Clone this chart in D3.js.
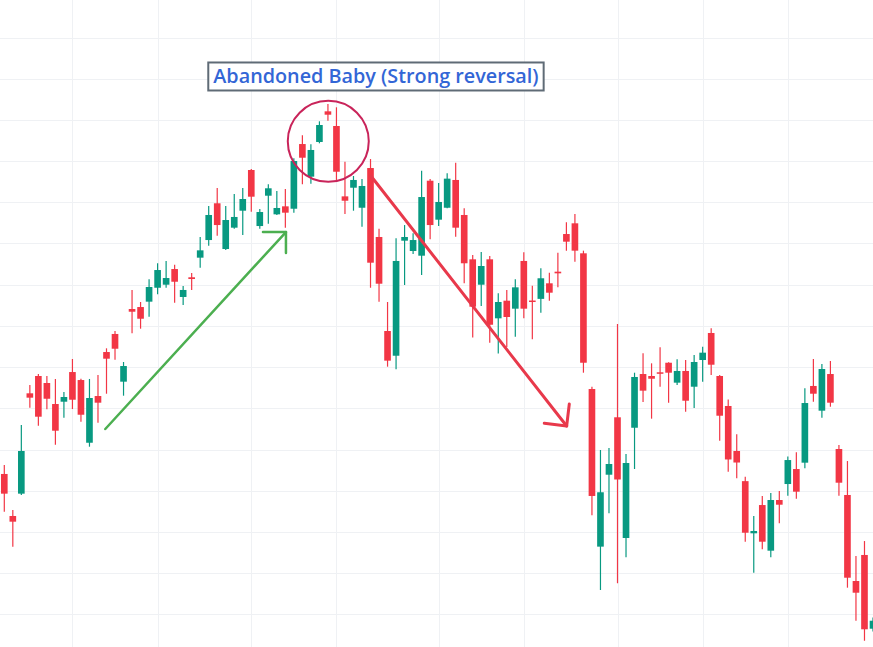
<!DOCTYPE html>
<html>
<head>
<meta charset="utf-8">
<script src="https://cdn.jsdelivr.net/npm/d3@7"></script>
<style>
  html, body { margin: 0; padding: 0; background: #fff; overflow: hidden; }
</style>
</head>
<body>
<div id="viz"></div>
<script>
const width = 873;
const height = 647;
const upColor = '#089981';
const downColor = '#f23645';
const gridColor = '#eff1f4';

// Candle data (one value per session)
const opens  = [117.03, 111.93, 114.64, 126.82, 128.92, 128.07, 125.52, 125.80, 129.40, 128.43,
                120.82, 126.49, 131.83, 134.02, 128.23, 137.05, 137.29, 137.94, 139.63, 140.00,
                141.90, 138.51, 140.90, 143.28, 145.42, 149.88, 144.33, 146.92, 148.98, 153.92,
                147.12, 150.80, 148.54, 149.51, 149.22, 157.07, 153.11, 157.32, 161.04, 159.26,
                150.72, 151.77, 149.34, 154.16, 145.79, 134.38, 131.38, 145.34, 144.09, 143.52,
                152.62, 147.89, 149.34, 152.71, 148.46, 143.08, 140.00, 143.08, 135.92, 138.06,
                137.09, 142.88, 138.08, 138.28, 140.17, 141.58, 146.15, 147.45, 143.81, 127.34,
                108.21, 116.94, 123.91, 109.26, 122.64, 129.16, 128.92, 129.37, 130.53, 128.11,
                129.53, 127.62, 130.86, 134.14, 128.92, 125.28, 119.82, 116.16, 109.83, 113.26,
                107.72, 113.87, 115.81, 117.63, 118.40, 127.71, 124.71, 129.16, 120.06, 114.48,
                104.04, 107.20, 98.25];
const highs  = [118.12, 112.66, 122.97, 127.83, 129.16, 128.92, 128.56, 126.97, 130.98, 128.60,
                128.56, 129.04, 132.28, 134.38, 130.62, 139.36, 137.90, 140.65, 142.60, 142.88,
                142.43, 139.84, 141.42, 145.79, 149.55, 151.73, 149.55, 151.01, 151.73, 154.04,
                149.19, 152.18, 151.37, 151.61, 155.34, 158.13, 157.04, 159.83, 161.93, 161.53,
                154.93, 153.19, 152.83, 155.25, 146.80, 137.90, 145.63, 147.24, 146.24, 153.83,
                152.83, 152.34, 153.52, 154.81, 149.27, 143.60, 143.97, 143.48, 138.96, 139.36,
                140.65, 143.93, 139.88, 141.99, 141.46, 143.88, 147.57, 148.58, 144.13, 127.62,
                119.94, 120.18, 135.23, 119.45, 129.32, 131.67, 130.46, 132.40, 130.60, 130.94,
                130.86, 131.47, 132.48, 134.71, 129.04, 126.08, 121.84, 116.69, 111.93, 114.36,
                114.72, 114.96, 119.15, 119.66, 127.43, 130.98, 130.37, 130.74, 120.55, 118.60,
                107.07, 108.89, 99.60];
const lows   = [112.45, 108.21, 114.48, 125.07, 122.89, 124.88, 120.58, 123.86, 124.91, 123.37,
                120.34, 123.25, 126.77, 130.90, 126.53, 134.11, 134.66, 136.12, 138.83, 139.63,
                137.81, 137.54, 139.36, 142.06, 144.73, 145.95, 144.20, 146.80, 146.03, 148.86,
                146.80, 147.40, 148.45, 146.92, 148.74, 152.18, 152.26, 157.16, 159.90, 152.71,
                148.58, 148.98, 147.04, 139.63, 137.94, 130.05, 129.73, 139.96, 143.73, 141.18,
                145.51, 147.12, 149.27, 145.82, 140.17, 133.59, 137.41, 132.97, 131.66, 132.44,
                133.69, 135.92, 133.37, 136.60, 138.06, 139.68, 144.13, 142.79, 129.32, 112.01,
                102.95, 112.26, 103.76, 106.93, 117.63, 125.76, 123.74, 127.62, 125.68, 127.83,
                124.59, 125.04, 128.23, 129.04, 121.07, 117.30, 116.50, 108.81, 105.05, 107.89,
                106.92, 111.04, 114.39, 114.03, 117.72, 125.80, 123.86, 125.19, 114.39, 103.23,
                99.22, 96.79, 97.90];
const closes = [114.64, 111.24, 119.82, 126.29, 123.98, 126.16, 122.28, 126.37, 126.04, 124.22,
                126.25, 125.68, 131.02, 132.23, 130.13, 136.72, 135.87, 139.72, 141.78, 140.81,
                140.36, 139.36, 140.69, 144.17, 148.46, 147.24, 147.85, 148.22, 150.40, 150.68,
                148.82, 151.70, 149.31, 148.74, 155.01, 155.41, 156.35, 159.38, 160.63, 153.71,
                150.19, 152.71, 151.98, 142.67, 140.12, 130.78, 142.88, 145.79, 145.42, 150.64,
                147.24, 150.04, 152.87, 146.92, 142.60, 137.33, 142.27, 135.14, 137.90, 136.08,
                139.68, 137.09, 137.96, 140.78, 139.03, 141.38, 145.22, 144.13, 130.53, 114.36,
                114.81, 118.24, 116.36, 118.36, 128.80, 127.14, 128.59, 129.25, 129.32, 129.53,
                125.92, 130.62, 131.75, 130.29, 124.10, 118.79, 118.42, 109.90, 110.11, 108.81,
                113.87, 113.30, 118.72, 114.88, 125.64, 126.77, 129.77, 125.68, 115.97, 104.44,
                102.62, 98.18, 99.22];
const sessions = d3.range(1, opens.length + 1);

// Grid positions
const priceGrid = [95, 100, 105, 110, 115, 120, 125, 130, 135, 140, 145, 150, 155, 160, 165, 170, 175];
const sessionGrid = [9, 19, 30, 40, 52, 62, 73, 83, 93];

// Annotations (session, price)
const labelText = 'Abandoned Baby (Strong reversal)';
const labelAt = [44.64, 164.48];
const circleAt = [39.04, 157.4];
const greenArrow = [[12.86, 122.49], [34.07, 146.39]];
const greenHead = [[31.37, 146.39], [34.07, 146.39], [34.07, 143.85]];
const redArrow = [[44.05, 153.19], [67.03, 122.85]];
const redHead = [[67.34, 125.52], [67.03, 122.85], [64.40, 123.18]];

const candles = sessions.map((s, i) => ({
  s, open: opens[i], high: highs[i], low: lows[i], close: closes[i]
}));

// Scales
const xScale = d3.scaleLinear()
  .domain([1, sessions.length])
  .range([4.3, 873]);
const yScale = d3.scaleLinear()
  .domain([100, 170])
  .range([614.3, 37.5]);
const step = xScale(2) - xScale(1);
const bodyWidth = step * 0.78;

const svg = d3.select('#viz')
  .append('svg')
    .attr('viewBox', [0, 0, width, height])
    .attr('width', width)
    .attr('height', height)
    .style('display', 'block');

// Grid
const grid = svg.append('g').attr('class', 'grid')
  .attr('stroke', gridColor)
  .attr('stroke-width', 1);
grid.selectAll('line.h')
  .data(priceGrid)
  .join('line')
    .attr('class', 'h')
    .attr('x1', 0)
    .attr('x2', width)
    .attr('y1', d => Math.round(yScale(d)) + 0.5)
    .attr('y2', d => Math.round(yScale(d)) + 0.5);
grid.selectAll('line.v')
  .data(sessionGrid)
  .join('line')
    .attr('class', 'v')
    .attr('x1', d => Math.round(xScale(d)) + 0.5)
    .attr('x2', d => Math.round(xScale(d)) + 0.5)
    .attr('y1', 0)
    .attr('y2', height);

// Candles
const candleGroup = svg.append('g').attr('class', 'candles');
const candle = candleGroup.selectAll('g')
  .data(candles)
  .join('g')
    .attr('fill', d => d.close >= d.open ? upColor : downColor)
    .attr('stroke', d => d.close >= d.open ? upColor : downColor);

candle.append('line')
  .attr('x1', d => xScale(d.s))
  .attr('x2', d => xScale(d.s))
  .attr('y1', d => yScale(d.high))
  .attr('y2', d => yScale(d.low))
  .attr('stroke-width', 1.2);

candle.append('rect')
  .attr('x', d => xScale(d.s) - bodyWidth / 2)
  .attr('y', d => yScale(Math.max(d.open, d.close)))
  .attr('width', bodyWidth)
  .attr('height', d => Math.max(1.5, Math.abs(yScale(d.open) - yScale(d.close))))
  .attr('stroke', 'none');

// Annotations
const line = d3.line()
  .x(d => xScale(d[0]))
  .y(d => yScale(d[1]));

const notes = svg.append('g').attr('class', 'notes')
  .attr('fill', 'none')
  .attr('stroke-linecap', 'round')
  .attr('stroke-linejoin', 'round');

notes.append('path')
  .attr('d', line(greenArrow))
  .attr('stroke', '#4caf50')
  .attr('stroke-width', 2.5);
notes.append('path')
  .attr('d', line(greenHead))
  .attr('stroke', '#4caf50')
  .attr('stroke-width', 2.5);

notes.append('path')
  .attr('d', line(redArrow))
  .attr('stroke', '#e8394b')
  .attr('stroke-width', 3);
notes.append('path')
  .attr('d', line(redHead))
  .attr('stroke', '#e8394b')
  .attr('stroke-width', 3);

notes.append('circle')
  .attr('cx', xScale(circleAt[0]))
  .attr('cy', yScale(circleAt[1]))
  .attr('r', 40.5)
  .attr('stroke', '#c9245a')
  .attr('stroke-width', 2);

// Label with boxed text
const label = svg.append('g').attr('class', 'label');
const labelTextEl = label.append('text')
  .attr('x', xScale(labelAt[0]))
  .attr('y', yScale(labelAt[1]))
  .attr('text-anchor', 'middle')
  .attr('fill', '#3366d6')
  .style('font-family', '"Open Sans", sans-serif')
  .style('font-weight', 600)
  .style('font-size', '19.8px')
  .text(labelText);
const bb = labelTextEl.node().getBBox();
label.insert('rect', 'text')
  .attr('x', bb.x - 5)
  .attr('y', bb.y + 0.5)
  .attr('width', bb.width + 10)
  .attr('height', bb.height + 1)
  .attr('fill', '#fff')
  .attr('stroke', '#5f6b76')
  .attr('stroke-width', 2);
</script>
</body>
</html>
